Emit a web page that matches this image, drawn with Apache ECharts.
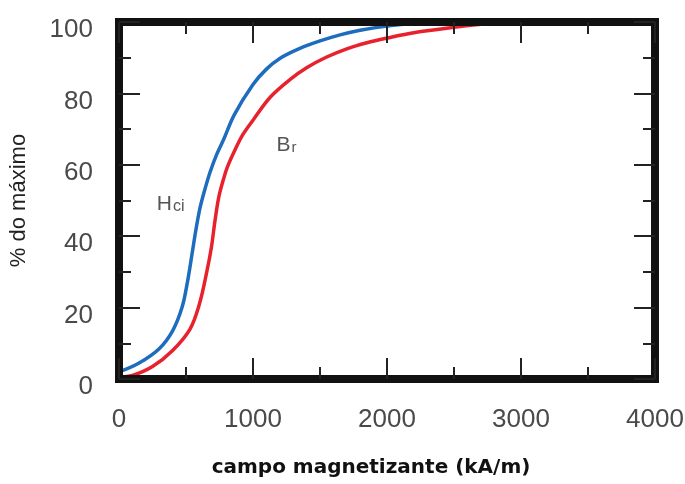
<!DOCTYPE html>
<html>
<head>
<meta charset="utf-8">
<script src="https://cdn.jsdelivr.net/npm/echarts@6/dist/echarts.min.js"></script>
<style>
  html, body { margin: 0; padding: 0; background: #fff; }
  #chart { width: 685px; height: 484px; }
</style>
</head>
<body>
<div id="chart"></div>
<script>
// curva Hci (azul)
const hciField = [0, 150, 300, 400, 470, 510, 545, 575, 605, 640, 680, 730, 780, 860, 1000, 1100, 1200, 1350, 1500, 1650, 1800, 2000, 2200, 2500, 2800]
const hciPct = [2, 4.5, 8.5, 13.5, 20, 27, 35, 42, 48, 53, 58, 63, 67, 74, 82.5, 86.8, 89.8, 92.6, 94.7, 96.4, 97.7, 98.9, 99.6, 100, 100]
// curva Br (vermelha)
const brField = [0, 100, 250, 400, 530, 600, 655, 690, 715, 745, 780, 810, 870, 925, 1000, 1130, 1280, 1400, 1550, 1700, 1850, 2000, 2200, 2500, 2750, 3000]
const brPct = [0.5, 1, 3.5, 8, 14, 21, 30, 37, 44, 51, 56, 59.5, 64.5, 68.5, 72.5, 79, 84, 87.2, 90.2, 92.5, 94.2, 95.5, 97, 98.5, 99.5, 100]
// rótulos das curvas (posição em unidades dos eixos)
const hciLabelAt = [385, 49]
const brLabelAt = [1250, 65.5]

const frame = { onZero: false, lineStyle: { color: '#111', width: 8, cap: 'square' } }
const tickMajor = { show: true, inside: true, length: 21, lineStyle: { color: '#222', width: 2 } }
const tickMinor = { show: true, splitNumber: 2, length: 12, lineStyle: { color: '#222', width: 2 } }
const labelFont = { color: '#4a4a4a', fontSize: 26, fontFamily: 'Liberation Sans, sans-serif', formatter: v => String(v) }

const chart = echarts.init(document.getElementById('chart'))
chart.setOption({
  animation: false,
  grid: { left: 119, right: 30, top: 22, bottom: 105, outerBoundsMode: 'none', containLabel: false },
  xAxis: [{
    type: 'value', position: 'bottom', min: 0, max: 4000, interval: 1000, z: 5,
    axisLine: frame, axisTick: tickMajor, minorTick: tickMinor, splitLine: { show: false },
    axisLabel: Object.assign({ margin: 28 }, labelFont),
    name: 'campo magnetizante (kA/m)', nameLocation: 'middle', nameGap: 79,
    nameTextStyle: { color: '#111', fontSize: 20, fontWeight: 'bold', fontFamily: 'DejaVu Sans', padding: [0, 32, 0, 0] }
  }, {
    type: 'value', position: 'top', min: 0, max: 4000, interval: 1000, z: 5,
    axisLine: frame, axisTick: tickMajor, minorTick: tickMinor, splitLine: { show: false },
    axisLabel: { show: false }
  }],
  yAxis: [{
    type: 'value', position: 'left', min: 0, max: 100, interval: 20, z: 5,
    axisLine: frame, axisTick: tickMajor, minorTick: tickMinor, splitLine: { show: false },
    axisLabel: Object.assign({ margin: 26, verticalAlign: 'top', lineHeight: 16 }, labelFont),
    name: '% do máximo', nameLocation: 'middle', nameGap: 89,
    nameTextStyle: { color: '#222', fontSize: 22, fontFamily: 'Liberation Sans' }
  }, {
    type: 'value', position: 'right', min: 0, max: 100, interval: 20, z: 5,
    axisLine: frame, axisTick: tickMajor, minorTick: tickMinor, splitLine: { show: false },
    axisLabel: { show: false }
  }],
  series: [{
    name: 'Br', type: 'line', showSymbol: false, smooth: 0.35,
    data: brField.map((x, i) => [x, brPct[i]]),
    lineStyle: { color: '#e8222c', width: 3.5 },
    markPoint: {
      symbolSize: 0,
      label: {
        show: true, position: 'inside',
        formatter: '{h|B}{s|r}',
        rich: {
          h: { fontSize: 21, lineHeight: 21, color: '#555', fontFamily: 'Liberation Sans', verticalAlign: 'top' },
          s: { fontSize: 15, lineHeight: 15, color: '#555', fontFamily: 'Liberation Sans', verticalAlign: 'bottom', padding: [9, 0, 0, 1] }
        }
      },
      data: [{ coord: brLabelAt }]
    }
  }, {
    name: 'Hci', type: 'line', showSymbol: false, smooth: 0.35,
    data: hciField.map((x, i) => [x, hciPct[i]]),
    lineStyle: { color: '#1d6cbd', width: 3.5 },
    markPoint: {
      symbolSize: 0,
      label: {
        show: true, position: 'inside',
        formatter: '{h|H}{s|ci}',
        rich: {
          h: { fontSize: 21, lineHeight: 21, color: '#555', fontFamily: 'Liberation Sans', verticalAlign: 'top' },
          s: { fontSize: 16, lineHeight: 16, color: '#555', fontFamily: 'Liberation Sans', verticalAlign: 'bottom', padding: [9, 0, 0, 1] }
        }
      },
      data: [{ coord: hciLabelAt }]
    }
  }]
})
</script>
</body>
</html>
